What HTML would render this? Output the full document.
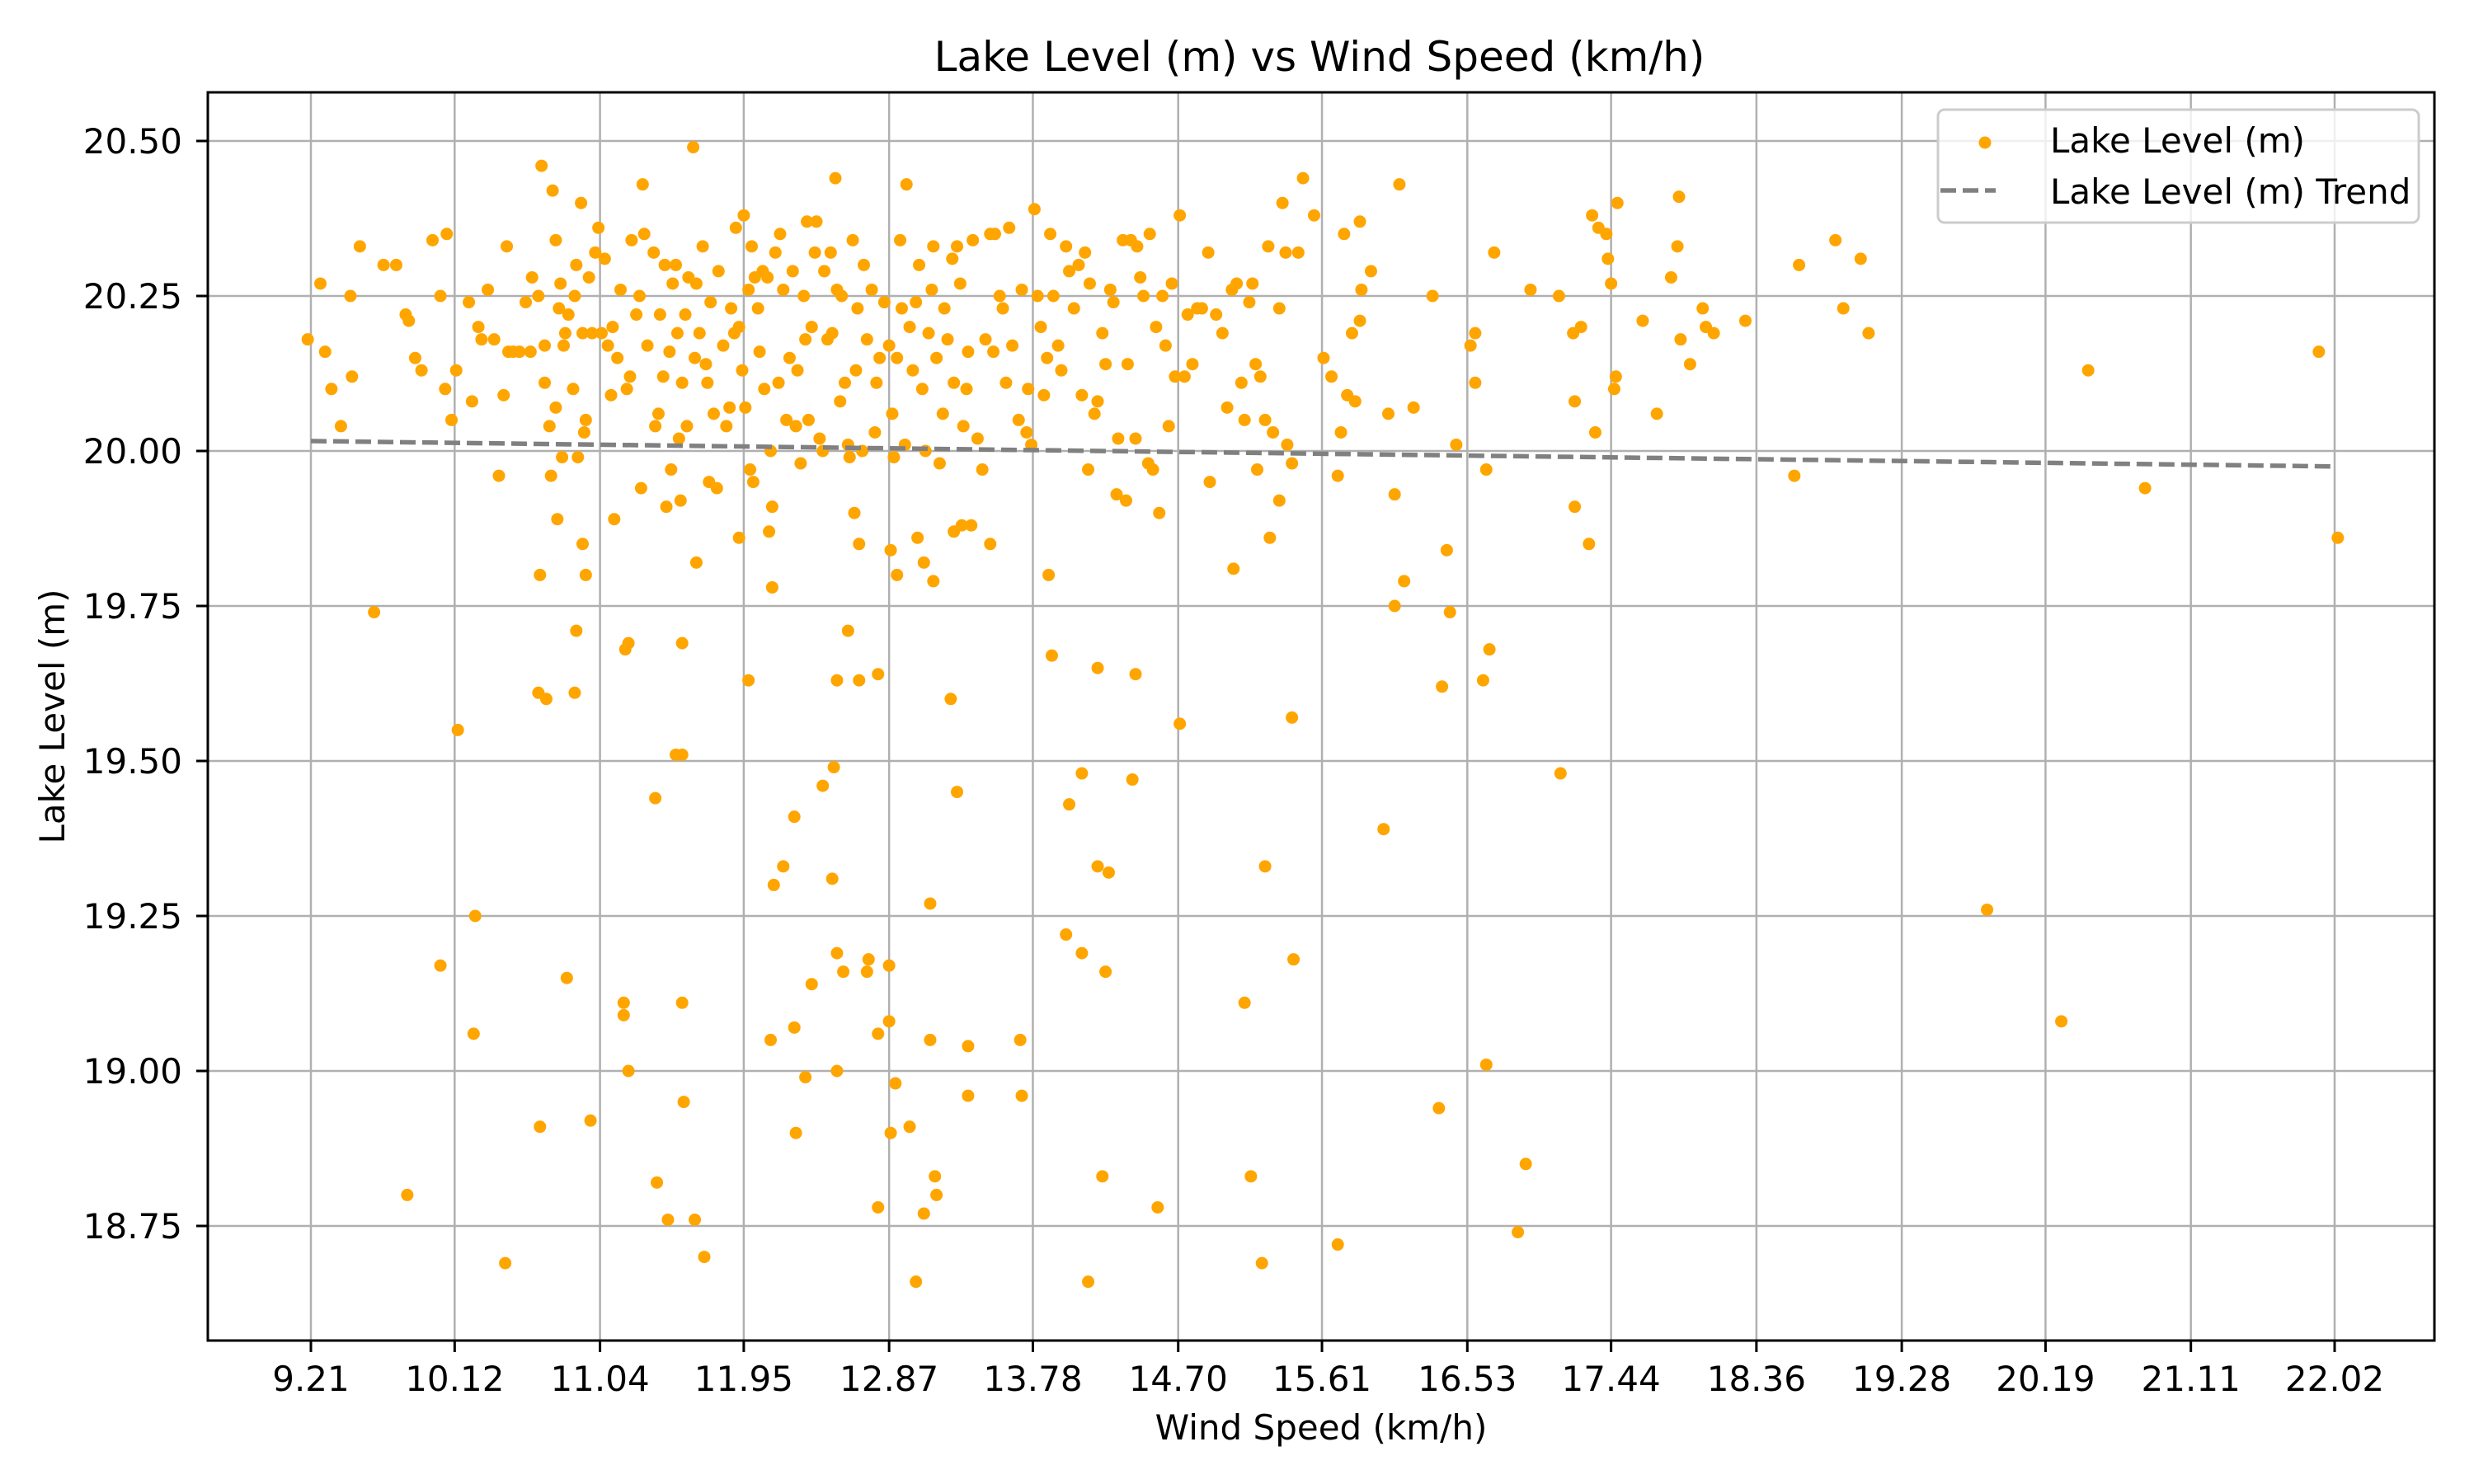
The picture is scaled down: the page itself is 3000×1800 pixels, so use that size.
<!DOCTYPE html>
<html><head><meta charset="utf-8"><style>
html,body{margin:0;padding:0;background:#fff}
svg{display:block;font-family:"DejaVu Sans","Liberation Sans",sans-serif}
</style></head><body>
<svg id="chart" width="3000" height="1800" viewBox="0 0 3000 1800">
<rect width="3000" height="1800" fill="#fff"/>
<g id="grid"></g>
<g id="points"></g>
<g id="trend"></g>
<rect x="252" y="112" width="2700" height="1514" fill="none" stroke="#000" stroke-width="3"/>
<g id="ticks"></g>
<text x="1600" y="86" font-size="50" text-anchor="middle">Lake Level (m) vs Wind Speed (km/h)</text>
<text x="1602" y="1746" font-size="42" text-anchor="middle">Wind Speed (km/h)</text>
<text x="0" y="0" font-size="42" text-anchor="middle" transform="translate(78,869) rotate(-90)">Lake Level (m)</text>
<g>
<rect x="2350" y="133" width="583" height="137" rx="8" fill="#fff" fill-opacity="0.8" stroke="#ccc" stroke-width="3"/>
<circle cx="2407" cy="173" r="7.5" fill="#FFA500"/>
<text x="2486" y="185" font-size="42">Lake Level (m)</text>
<line x1="2353" y1="231" x2="2420" y2="231" stroke="#808080" stroke-width="5.5" stroke-dasharray="19,8"/>
<text x="2486" y="247" font-size="42">Lake Level (m) Trend</text>
</g>
</svg>
<script>
const xTicks=[9.21,10.12,11.04,11.95,12.87,13.78,14.70,15.61,16.53,17.44,18.36,19.28,20.19,21.11,22.02];
const yTicks=[18.75,19.00,19.25,19.50,19.75,20.00,20.25,20.50];
const trendX=[9.21,22.02];
const trendY=[20.016,19.975];
const windSpeed=[9.61,10.14,10.03,10.25,10.24,9.82,10.44,10.66,10.65,10.70,10.89,10.88,10.93,10.95,10.77,10.83,10.66,10.98,11.19,11.19,11.22,11.20,11.22,11.39,11.40,11.47,11.64,11.70,11.57,11.56,11.56,11.52,11.56,11.65,11.98,11.92,12.11,12.13,12.13,12.12,12.14,12.20,12.27,12.27,12.28,12.34,12.38,12.45,12.52,12.51,12.54,12.54,12.58,12.54,12.61,12.68,12.65,12.68,12.73,12.74,12.80,12.80,12.80,12.87,12.87,12.88,12.91,12.88,12.92,13.00,13.05,13.09,13.04,13.09,13.13,13.13,13.15,13.16,13.17,13.26,13.30,13.28,13.33,13.39,13.37,13.37,13.51,13.70,13.71,13.88,13.90,13.99,14.01,14.09,14.09,14.13,14.19,14.19,14.22,14.24,14.26,14.41,14.43,14.57,14.71,15.05,15.12,15.16,15.25,15.23,15.28,15.34,15.42,15.43,15.71,16.00,16.07,16.07,16.13,16.35,16.37,16.40,16.42,16.63,16.67,16.65,16.85,16.90,17.12,17.21,17.30,18.60,19.82,20.29,20.82,22.04,20.46,21.92,
9.19,9.27,9.30,9.34,9.40,9.46,9.47,9.52,9.67,9.75,9.81,9.83,9.87,9.91,9.98,10.03,10.06,10.07,10.10,10.13,10.21,10.23,10.27,10.29,10.33,10.37,10.40,10.43,10.45,10.46,10.49,10.53,10.57,10.60,10.61,10.65,10.67,10.69,10.69,10.72,10.73,10.74,10.76,10.76,10.78,10.79,10.80,10.81,10.82,10.84,10.87,10.88,10.89,10.90,10.92,10.93,10.94,10.95,10.97,10.99,11.01,11.03,11.05,11.07,11.09,11.11,11.12,11.13,11.15,11.17,11.21,11.23,11.24,11.27,11.29,11.30,11.31,11.32,11.34,11.38,11.39,11.41,11.42,11.44,11.45,11.46,11.48,11.49,11.50,11.52,11.53,11.54,11.55,11.56,11.58,11.59,11.60,11.63,11.64,11.65,11.67,11.69,11.71,11.72,11.73,11.74,11.76,11.78,11.79,11.82,11.84,11.86,11.87,11.89,11.90,11.92,11.94,11.95,11.96,11.98,11.99,12.00,12.01,12.02,12.04,12.05,12.07,12.08,12.10,12.12,12.15,12.17,12.18,12.20,12.22,12.24,12.26,12.28,12.29,12.31,12.33,12.34,12.35,12.36,12.38,12.40,12.41,12.43,12.45,12.46,12.48,12.50,12.51,12.53,12.54,12.56,12.57,12.59,12.61,12.62,12.64,12.66,12.67,12.70,12.71,12.73,12.76,12.78,12.79,12.81,12.84,12.87,12.89,12.90,12.92,12.94,12.95,12.97,12.98,13.00,13.02,13.04,13.06,13.08,13.10,13.12,13.14,13.15,13.17,13.19,13.21,13.22,13.24,13.27,13.28,13.30,13.32,13.34,13.36,13.37,13.40,13.43,13.46,13.48,13.51,13.53,13.54,13.57,13.59,13.61,13.63,13.65,13.69,13.71,13.74,13.75,13.77,13.79,13.81,13.83,13.85,13.87,13.89,13.91,13.94,13.96,13.99,14.01,14.04,14.07,14.09,14.11,14.13,14.14,14.17,14.19,14.22,14.24,14.27,14.29,14.31,14.32,14.35,14.37,14.38,14.40,14.43,14.44,14.46,14.48,14.51,14.52,14.54,14.56,14.58,14.60,14.62,14.64,14.66,14.68,14.71,14.74,14.76,14.79,14.82,14.85,14.89,14.90,14.94,14.98,15.01,15.04,15.07,15.10,15.12,15.15,15.17,15.19,15.20,15.22,15.25,15.27,15.30,15.34,15.36,15.38,15.39,15.42,15.46,15.49,15.56,15.62,15.67,15.71,15.73,15.75,15.77,15.80,15.82,15.85,15.86,15.85,15.92,16.03,16.10,16.19,16.31,16.46,16.55,16.58,16.58,16.65,16.70,16.93,17.11,17.20,17.21,17.25,17.32,17.34,17.36,17.41,17.42,17.44,17.46,17.47,17.48,17.64,17.73,17.82,17.86,17.87,17.88,17.94,18.02,18.04,18.09,18.29,18.63,18.86,18.91,19.02,19.07];
const lakeLevel=[19.74,19.55,19.17,19.25,19.06,18.80,18.69,19.80,19.61,19.60,19.71,19.61,19.85,19.80,19.89,19.15,18.91,18.92,19.09,19.11,19.00,19.68,19.69,19.44,18.82,18.76,18.76,18.70,18.95,19.11,19.69,19.51,19.51,19.82,19.63,19.86,19.87,19.91,19.78,19.05,19.30,19.33,19.41,19.07,18.90,18.99,19.14,19.46,19.49,19.31,19.19,19.00,19.16,19.63,19.71,19.63,19.90,19.85,19.16,19.18,19.64,19.06,18.78,19.17,19.08,18.90,18.98,19.84,19.80,18.91,19.86,19.82,18.66,18.77,19.27,19.05,19.79,18.83,18.80,19.60,19.45,19.87,19.88,19.88,19.04,18.96,19.85,19.05,18.96,19.80,19.67,19.22,19.43,19.48,19.19,18.66,19.65,19.33,18.83,19.16,19.32,19.47,19.64,18.78,19.56,19.81,19.11,18.83,19.33,18.69,19.86,19.92,19.57,19.18,18.72,19.39,19.93,19.75,19.79,18.94,19.62,19.84,19.74,19.63,19.68,19.01,18.74,18.85,19.48,19.91,19.85,19.96,19.26,19.08,19.94,19.86,20.13,20.16,
20.18,20.27,20.16,20.10,20.04,20.25,20.12,20.33,20.30,20.30,20.22,20.21,20.15,20.13,20.34,20.25,20.10,20.35,20.05,20.13,20.24,20.08,20.20,20.18,20.26,20.18,19.96,20.09,20.33,20.16,20.16,20.16,20.24,20.16,20.28,20.25,20.46,20.17,20.11,20.04,19.96,20.42,20.07,20.34,20.23,20.27,19.99,20.17,20.19,20.22,20.10,20.25,20.30,19.99,20.40,20.19,20.03,20.05,20.28,20.19,20.32,20.36,20.19,20.31,20.17,20.09,20.20,19.89,20.15,20.26,20.10,20.12,20.34,20.22,20.25,19.94,20.43,20.35,20.17,20.32,20.04,20.06,20.22,20.12,20.30,19.91,20.16,19.97,20.27,20.30,20.19,20.02,19.92,20.11,20.22,20.04,20.28,20.49,20.15,20.27,20.19,20.33,20.14,20.11,19.95,20.24,20.06,19.94,20.29,20.17,20.04,20.07,20.23,20.19,20.36,20.20,20.13,20.38,20.07,20.26,19.97,20.33,19.95,20.28,20.23,20.16,20.29,20.10,20.28,20.00,20.32,20.11,20.35,20.26,20.05,20.15,20.29,20.04,20.13,19.98,20.25,20.18,20.37,20.05,20.20,20.32,20.37,20.02,20.00,20.29,20.18,20.32,20.19,20.44,20.26,20.08,20.25,20.11,20.01,19.99,20.34,20.13,20.23,20.00,20.30,20.18,20.26,20.03,20.11,20.15,20.24,20.17,20.06,19.99,20.15,20.34,20.23,20.01,20.43,20.20,20.13,20.24,20.30,20.10,20.00,20.19,20.26,20.33,20.15,19.98,20.06,20.23,20.18,20.31,20.11,20.33,20.27,20.04,20.10,20.16,20.34,20.02,19.97,20.18,20.35,20.16,20.35,20.25,20.23,20.11,20.36,20.17,20.05,20.26,20.03,20.10,20.01,20.39,20.25,20.20,20.09,20.15,20.35,20.25,20.17,20.13,20.33,20.29,20.23,20.30,20.09,20.32,19.97,20.27,20.06,20.08,20.19,20.14,20.26,20.24,19.93,20.02,20.34,19.92,20.14,20.34,20.02,20.33,20.28,20.25,19.98,20.35,19.97,20.20,19.90,20.25,20.17,20.04,20.27,20.12,20.38,20.12,20.22,20.14,20.23,20.23,20.32,19.95,20.22,20.19,20.07,20.26,20.27,20.11,20.05,20.24,20.27,20.14,19.97,20.12,20.05,20.33,20.03,20.23,20.40,20.32,20.01,19.98,20.32,20.44,20.38,20.15,20.12,19.96,20.03,20.35,20.09,20.19,20.08,20.37,20.26,20.21,20.29,20.06,20.43,20.07,20.25,20.01,20.17,20.19,20.11,19.97,20.32,20.26,20.25,20.19,20.08,20.20,20.38,20.03,20.36,20.35,20.31,20.27,20.10,20.12,20.40,20.21,20.06,20.28,20.33,20.41,20.18,20.14,20.23,20.20,20.19,20.21,20.30,20.34,20.23,20.31,20.19];

const NS='http://www.w3.org/2000/svg';
const X0=252,X1=2952,Y0=112,Y1=1626;
function sx(v){return 377+(v-9.21)*(2831-377)/(22.02-9.21);}
function sy(v){return 171+(20.5-v)*752;}
function mk(tag,attrs,parent){const e=document.createElementNS(NS,tag);for(const k in attrs)e.setAttribute(k,attrs[k]);parent.appendChild(e);return e;}
const grid=document.getElementById('grid'),ticks=document.getElementById('ticks'),pts=document.getElementById('points'),tr=document.getElementById('trend');
xTicks.forEach(t=>{const x=sx(t);
 const g=mk('line',{x1:x,x2:x,y1:Y0,y2:Y1,stroke:'#b0b0b0','stroke-width':2.5},grid);
 
 
 const tk=mk('line',{x1:x,x2:x,y1:Y1,y2:Y1+14,stroke:'#000','stroke-width':3},ticks);
 
 
 const tx=mk('text',{x:x,y:1687,'font-size':42,'text-anchor':'middle'},ticks);tx.textContent=t.toFixed(2);
 
 
});
yTicks.forEach(t=>{const y=sy(t);
 const g=mk('line',{x1:X0,x2:X1,y1:y,y2:y,stroke:'#b0b0b0','stroke-width':2.5},grid);
 
 
 const tk=mk('line',{x1:X0-14,x2:X0,y1:y,y2:y,stroke:'#000','stroke-width':3},ticks);
 
 
 const tx=mk('text',{x:221,y:y+15,'font-size':42,'text-anchor':'end'},ticks);tx.textContent=t.toFixed(2);
 
 
});
windSpeed.forEach((w,i)=>{
 const c=mk('circle',{cx:sx(w),cy:sy(lakeLevel[i]),r:7.5,fill:'#FFA500'},pts);
 
 
});
const tl=mk('polyline',{points:trendX.map((x,i)=>sx(x)+','+sy(trendY[i])).join(' '),fill:'none',stroke:'#808080','stroke-width':5.5,'stroke-dasharray':'19,8'},tr);


</script>
</body></html>
